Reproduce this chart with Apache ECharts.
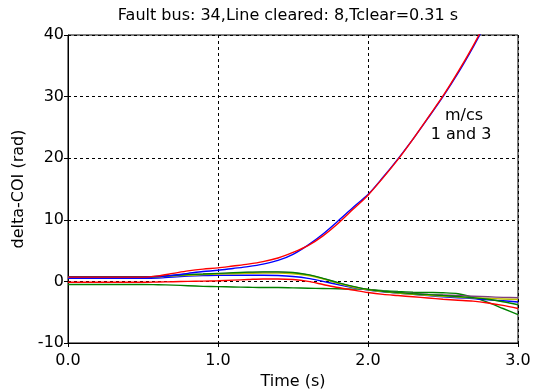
<!DOCTYPE html>
<html>
<head>
<meta charset="utf-8">
<script src="https://cdn.jsdelivr.net/npm/echarts@6/dist/echarts.min.js"></script>
<style>
  html, body { margin: 0; padding: 0; background: #fff; }
  #chart { width: 540px; height: 392px; }
</style>
</head>
<body>
<div id="chart"></div>
<script>
// time samples (s)
const time = [0.0, 0.1, 0.2, 0.3, 0.4, 0.5, 0.6, 0.7, 0.8, 0.9, 1.0,
              1.1, 1.2, 1.3, 1.4, 1.5, 1.6, 1.7, 1.8, 1.9, 2.0,
              2.1, 2.2, 2.3, 2.4, 2.5, 2.6, 2.7, 2.8, 2.9, 3.0];

// unstable machines (m/cs 1 and 3)
const blueUp = [0.7, 0.7, 0.7, 0.7, 0.7, 0.7, 0.8, 1.0, 1.3, 1.6, 1.8,
                2.1, 2.4, 2.8, 3.4, 4.4, 5.9, 7.7, 9.8, 12.0, 14.1,
                16.9, 19.9, 23.1, 26.5, 30.0, 33.8, 38.0, 42.5, 47.2, 52.0];
const redUp = [0.7, 0.7, 0.7, 0.7, 0.7, 0.7, 0.9, 1.3, 1.7, 2.0, 2.2,
               2.5, 2.8, 3.2, 3.8, 4.7, 5.8, 7.4, 9.4, 11.7, 14.0,
               16.8, 19.8, 23.1, 26.6, 30.1, 34.0, 38.2, 42.8, 47.5, 52.5];

// remaining machines
const greenTop = [0.75, 0.75, 0.75, 0.75, 0.75, 0.75, 0.8, 0.95, 1.1, 1.2, 1.3,
                  1.4, 1.5, 1.55, 1.55, 1.45, 1.1, 0.5, -0.2, -0.8, -1.3,
                  -1.6, -1.8, -2.0, -2.15, -2.3, -2.45, -2.65, -2.9, -3.3, -3.8];
const oliveLine = [0.7, 0.7, 0.7, 0.7, 0.7, 0.7, 0.75, 0.9, 1.0, 1.1, 1.2,
                   1.25, 1.3, 1.35, 1.35, 1.25, 0.95, 0.4, -0.3, -0.9, -1.35,
                   -1.65, -1.9, -2.1, -2.25, -2.4, -2.55, -2.65, -2.75, -2.85, -2.95];
const purpleLine = [0.7, 0.7, 0.7, 0.7, 0.7, 0.7, 0.75, 0.9, 1.05, 1.15, 1.25,
                    1.35, 1.45, 1.5, 1.5, 1.4, 1.05, 0.45, -0.25, -0.85, -1.3,
                    -1.6, -1.8, -1.95, -2.1, -2.2, -2.3, -2.4, -2.5, -2.6, -2.65];
const blueLow = [0.5, 0.5, 0.5, 0.5, 0.5, 0.5, 0.55, 0.7, 0.85, 0.95, 1.0,
                 1.0, 1.0, 1.0, 0.95, 0.8, 0.5, 0.0, -0.5, -1.0, -1.4,
                 -1.7, -1.9, -2.1, -2.3, -2.5, -2.65, -2.8, -3.0, -3.15, -3.35];
const redLow = [-0.15, -0.15, -0.15, -0.15, -0.15, -0.15, -0.1, -0.05, 0.0, 0.05, 0.1,
                0.2, 0.3, 0.4, 0.4, 0.3, 0.0, -0.5, -1.0, -1.4, -1.8,
                -2.1, -2.3, -2.5, -2.7, -2.9, -3.05, -3.2, -3.5, -3.9, -4.4];
const greenLow = [-0.5, -0.5, -0.5, -0.5, -0.5, -0.5, -0.55, -0.6, -0.7, -0.8, -0.85,
                  -0.9, -0.95, -1.0, -1.0, -1.05, -1.1, -1.15, -1.2, -1.25, -1.3,
                  -1.5, -1.65, -1.75, -1.8, -1.85, -2.0, -2.6, -3.4, -4.4, -5.4];

const xTicks = [0, 1, 2, 3];
const yTicks = [-10, 0, 10, 20, 30, 40];

const chart = echarts.init(document.getElementById('chart'));

const pair = arr => time.map((t, i) => [t, arr[i]]);

const mk = (name, arr, color) => ({
    name: name,
    type: 'line',
    data: pair(arr),
    smooth: 0.3,
    showSymbol: false,
    clip: true,
    lineStyle: { color: color, width: 1.4 },
    itemStyle: { color: color }
});

const font = 'DejaVu Sans';
const fs = 16;

const option = {
    backgroundColor: '#fff',
    animation: false,
    title: {
        text: 'Fault bus: 34,Line cleared: 8,Tclear=0.31 s',
        left: 283,
        top: 3,
        textAlign: 'center',
        textStyle: { fontFamily: font, fontSize: fs, fontWeight: 'normal', color: '#000' }
    },
    grid: {
        left: 68, right: 22, top: 35, bottom: 49,
        containLabel: false,
        outerBoundsMode: 'none',
        show: true,
        borderColor: '#000',
        borderWidth: 1
    },
    xAxis: {
        type: 'value',
        min: 0, max: 3, interval: 1,
        name: 'Time (s)',
        nameLocation: 'middle',
        nameGap: 31,
        nameTextStyle: { fontFamily: font, fontSize: fs, color: '#000' },
        axisLine: { show: true, onZero: false, lineStyle: { color: '#000' } },
        axisTick: { show: true, length: 4, lineStyle: { color: '#000' } },
        axisLabel: {
            fontFamily: font, fontSize: fs, color: '#000', margin: 10,
            formatter: v => xTicks.includes(v) ? v.toFixed(1) : ''
        },
        splitLine: { show: true, lineStyle: { color: '#000', type: [3, 3], width: 1 } }
    },
    yAxis: {
        type: 'value',
        min: -10, max: 40, interval: 10,
        name: 'delta-COI (rad)',
        nameLocation: 'middle',
        nameGap: 35,
        nameTextStyle: { fontFamily: font, fontSize: fs, color: '#000' },
        axisLine: { show: true, onZero: false, lineStyle: { color: '#000' } },
        axisTick: { show: true, length: 4, lineStyle: { color: '#000' } },
        axisLabel: {
            fontFamily: font, fontSize: fs, color: '#000', margin: 4,
            formatter: v => yTicks.includes(v) ? String(v) : ''
        },
        splitLine: { show: true, lineStyle: { color: '#000', type: [3, 3], width: 1 } }
    },
    graphic: [
        {
            type: 'text', x: 464, y: 116,
            style: { text: 'm/cs', align: 'center', verticalAlign: 'middle',
                     font: fs + 'px "DejaVu Sans"', fill: '#000' }
        },
        {
            type: 'text', x: 461, y: 135,
            style: { text: '1 and 3', align: 'center', verticalAlign: 'middle',
                     font: fs + 'px "DejaVu Sans"', fill: '#000' }
        }
    ],
    series: [
        mk('g2', greenLow, '#008000'),
        mk('r2', redLow, '#ff0000'),
        mk('b2', blueLow, '#0000ff'),
        mk('p1', purpleLine, '#7f3f7f'),
        mk('y1', oliveLine, '#bfbf00'),
        mk('g1', greenTop, '#008000'),
        mk('b1', blueUp, '#0000ff'),
        mk('r1', redUp, '#ff0000')
    ]
};

chart.setOption(option);
</script>
</body>
</html>
